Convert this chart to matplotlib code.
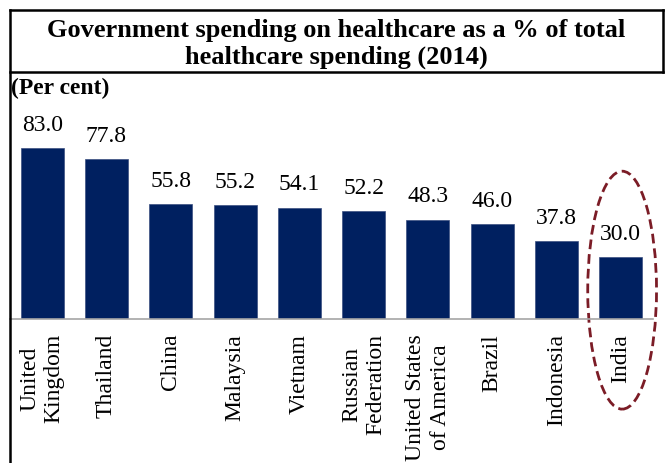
import numpy as np
import matplotlib
matplotlib.use("Agg")
import matplotlib.pyplot as plt
from matplotlib.patches import Ellipse
from matplotlib.lines import Line2D

countries = ["United\nKingdom", "Thailand", "China", "Malaysia", "Vietnam",
             "Russian\nFederation", "United States\nof America", "Brazil",
             "Indonesia", "India"]
spending = [83.0, 77.8, 55.8, 55.2, 54.1, 52.2, 48.3, 46.0, 37.8, 30.0]
title_lines = ["Government spending on healthcare as a % of total",
               "healthcare spending (2014)"]

plt.rcParams['font.family'] = ['Liberation Serif', 'DejaVu Serif']

W, H = 665, 464
fig = plt.figure(figsize=(W / 100, H / 100), dpi=100)

# axes: baseline at y=320px, 2.06 px per unit
base_px, top_px = 320, 110
ax = fig.add_axes([10 / W, (H - base_px) / H, 643 / W, (base_px - top_px) / H])
x = np.arange(len(countries))
ax.bar(x, spending, width=0.67, color="#002060", edgecolor="#3b4f80", linewidth=0.5)
ax.set_xlim(-0.5, len(countries) - 0.5)
ax.set_ylim(0, (base_px - top_px) / 2.06)

for xi, v in zip(x, spending):
    ax.annotate(f"{v:.1f}", (xi, v), xytext=(0, 17), textcoords="offset points",
                ha="center", va="center", fontsize=17)

ax.set_xticks(x)
ax.set_xticklabels(countries, rotation=90, fontsize=17, va="top", ha="center",
                   multialignment="center")
ax.tick_params(axis="x", length=0, pad=10)
ax.set_yticks([])
for s in ["top", "right", "left"]:
    ax.spines[s].set_visible(False)
ax.spines["bottom"].set_color("#a6a6a6")
ax.spines["bottom"].set_linewidth(1.2)

# dashed ellipse around India
india = len(countries) - 1
ell = Ellipse((india + 0.02, 14), width=1.07, height=115.5, fill=False,
              edgecolor="#7b1c26", linestyle=(0, (3.5, 1.8)), linewidth=2, clip_on=False)
ax.add_patch(ell)

# frame lines
def fline(xs, ys):
    fig.add_artist(Line2D([v / W for v in xs], [1 - v / H for v in ys],
                          color="black", linewidth=1.8))

fline([10, 10], [11, 464])
fline([10, 663], [11, 11])
fline([663, 663], [11, 73])
fline([10, 663], [73, 73])

for yy, line in zip([31, 57], title_lines):
    fig.text(336 / W, 1 - yy / H, line, ha="center", va="center",
             fontsize=19, fontweight="bold")
fig.text(11 / W, 1 - 88 / H, "(Per cent)", ha="left", va="center",
         fontsize=17, fontweight="bold")

fig.savefig("out.png", dpi=100)
